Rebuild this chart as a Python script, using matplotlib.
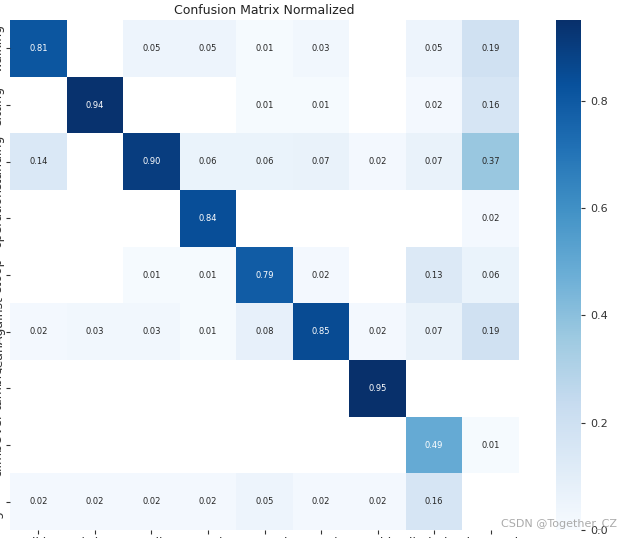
import numpy as np
import matplotlib
matplotlib.use("Agg")
import matplotlib.pyplot as plt
import seaborn as sns

names = ["walking", "sitting", "standing", "operation", "stoop",
         "leanAgainst", "tumble", "climbOver"]
x_labels = names + ["background FP"]
y_labels = names + ["background FN"]

# rows = predicted, cols = true (nan -> blank cell)
nan = np.nan
row_walking = [0.81, nan, 0.05, 0.05, 0.01, 0.03, nan, 0.05, 0.19]
row_sitting = [nan, 0.94, nan, nan, 0.01, 0.01, nan, 0.02, 0.16]
row_standing = [0.14, nan, 0.90, 0.06, 0.06, 0.07, 0.02, 0.07, 0.37]
row_operation = [nan, nan, nan, 0.84, nan, nan, nan, nan, 0.02]
row_stoop = [nan, nan, 0.01, 0.01, 0.79, 0.02, nan, 0.13, 0.06]
row_lean = [0.02, 0.03, 0.03, 0.01, 0.08, 0.85, 0.02, 0.07, 0.19]
row_tumble = [nan, nan, nan, nan, nan, nan, 0.95, nan, nan]
row_climb = [nan, nan, nan, nan, nan, nan, nan, 0.49, 0.01]
row_background = [0.02, 0.02, 0.02, 0.02, 0.05, 0.02, 0.02, 0.16, nan]

matrix = np.array([row_walking, row_sitting, row_standing, row_operation,
                   row_stoop, row_lean, row_tumble, row_climb, row_background])

W, H = 620, 538
fig = plt.figure(figsize=(W / 100, H / 100), dpi=100)
ax = fig.add_axes([10 / W, 8 / H, 509 / W, 510 / H])
cax = fig.add_axes([556 / W, 8 / H, 25 / W, 510 / H])

sns.heatmap(matrix, ax=ax, cbar_ax=cax, annot=True, annot_kws={"size": 6},
            cmap="Blues", fmt=".2f", vmin=0.0,
            xticklabels=x_labels, yticklabels=y_labels)
ax.set_facecolor((1, 1, 1))
ax.set_title("Confusion Matrix Normalized", fontsize=9, color="#222222", pad=4)
ax.tick_params(axis="both", labelsize=9, length=3, colors="#333333")
ax.tick_params(axis="y", pad=1)
ax.tick_params(axis="x", rotation=0, pad=2)
plt.setp(ax.get_yticklabels(), rotation=90, va="center")
cax.tick_params(labelsize=8, length=3, colors="#333333")

fig.text(0.995, 0.016, "CSDN @Together_CZ", ha="right", va="bottom",
         fontsize=8, color="#aaaaaa")

fig.savefig("out.png", dpi=100)
